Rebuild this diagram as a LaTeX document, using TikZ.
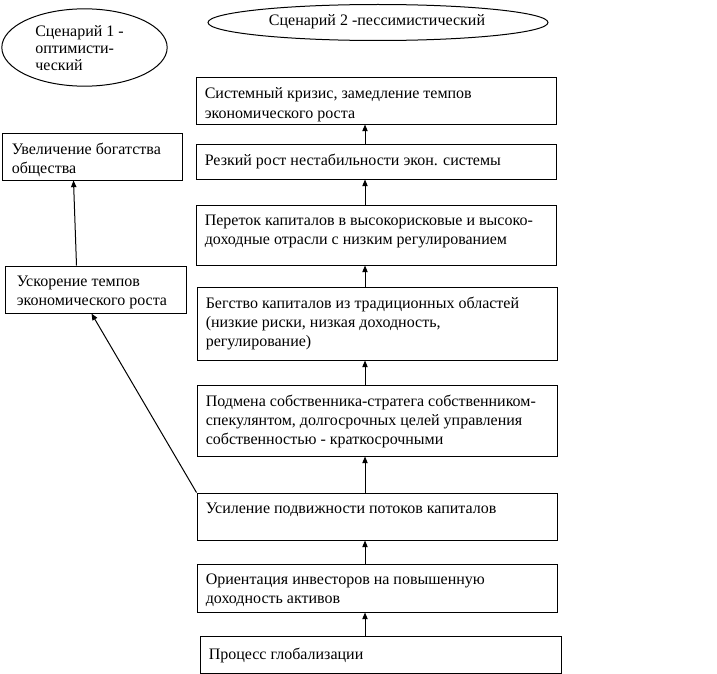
\documentclass[tikz,border=0pt]{standalone}
\usepackage{fontspec}
\setmainfont{Liberation Serif}
\usetikzlibrary{arrows.meta,calc,fit,shapes.geometric}
\begin{document}
\begin{tikzpicture}[x=0.75pt,y=-0.75pt,
  boxst/.style={draw,line width=0.75pt,inner sep=0pt,fit={#1}},
  txt/.style={anchor=north west,inner sep=0pt,align=left,font=\fontsize{12}{14.5}\selectfont},
  ovalst/.style={draw,ellipse,line width=0.75pt,inner sep=0pt},
  arr/.style={line width=0.75pt,-{Triangle[length=5pt,width=4pt]}}]
\useasboundingbox (0,0) rectangle (717,674);
% ellipses
\node[ovalst,minimum width=124pt,minimum height=58pt] (e1) at (84.5,47.5) {};
\node[txt,font=\fontsize{12}{13}\selectfont] (e1t) at (35,25) {Сценарий 1 -\\оптимисти-\\ческий};
\node[ovalst,minimum width=255pt,minimum height=27pt] (e2) at (378,22.5) {};
\node[inner sep=0pt,font=\fontsize{12}{14.5}\selectfont] (e2t) at (377,22) {Сценарий 2 -пессимистический};
% right column boxes
\node[boxst={(196,78) (556,124)}] (b1) {};
\node[boxst={(196,144) (556,179)}] (b2) {};
\node[boxst={(196,205) (556,265)}] (b3) {};
\node[boxst={(197,287) (557,360)}] (b4) {};
\node[boxst={(197,385) (557,456)}] (b5) {};
\node[boxst={(197,493) (557,540)}] (b6) {};
\node[boxst={(197,564) (557,612)}] (b7) {};
\node[boxst={(200,636) (561,673)}] (b8) {};
% left boxes
\node[boxst={(2,133) (182,180)}] (l1) {};
\node[boxst={(5,266) (186,313)}] (l2) {};
% texts
\node[txt] (t1) at ($(b1.north west)+(9,10)$) {Системный кризис, замедление темпов\\экономического роста};
\node[txt] (t2) at ($(b2.north west)+(9,10)$) {Резкий рост нестабильности экон. системы};
\node[txt] (t3) at ($(b3.north west)+(9,10)$) {Переток капиталов в высокорисковые и высоко-\\доходные отрасли с низким регулированием};
\node[txt] (t4) at ($(b4.north west)+(9,10)$) {Бегство капиталов из традиционных областей\\(низкие риски, низкая доходность,\\регулирование)};
\node[txt] (t5) at ($(b5.north west)+(9,10)$) {Подмена собственника-стратега собственником-\\спекулянтом, долгосрочных целей управления\\собственностью - краткосрочными};
\node[txt] (t6) at ($(b6.north west)+(9,10)$) {Усиление подвижности потоков капиталов};
\node[txt] (t7) at ($(b7.north west)+(9,10)$) {Ориентация инвесторов на повышенную\\доходность активов};
\node[txt] (t8) at ($(b8.north west)+(9,12)$) {Процесс глобализации};
\node[txt] (tl1) at ($(l1.north west)+(10,10)$) {Увеличение богатства\\общества};
\node[txt] (tl2) at ($(l2.north west)+(12,10)$) {Ускорение темпов\\экономического роста};
% arrows
\coordinate (ax) at (365,0);
\draw[arr] (b8.north -| ax) -- (b7.south -| ax);
\draw[arr] (b7.north -| ax) -- (b6.south -| ax);
\draw[arr] (b6.north -| ax) -- (b5.south -| ax);
\draw[arr] (b5.north -| ax) -- (b4.south -| ax);
\draw[arr] (b4.north -| ax) -- (b3.south -| ax);
\draw[arr] (b3.north -| ax) -- (b2.south -| ax);
\draw[arr] (b2.north -| ax) -- (b1.south -| ax);
\draw[arr] ($(l2.north west)+(72,0)$) -- ($(l1.south west)+(72,0)$);
\draw[arr] (b6.north west) -- ($(l2.south west)+(87,0)$);
\end{tikzpicture}
\end{document}
